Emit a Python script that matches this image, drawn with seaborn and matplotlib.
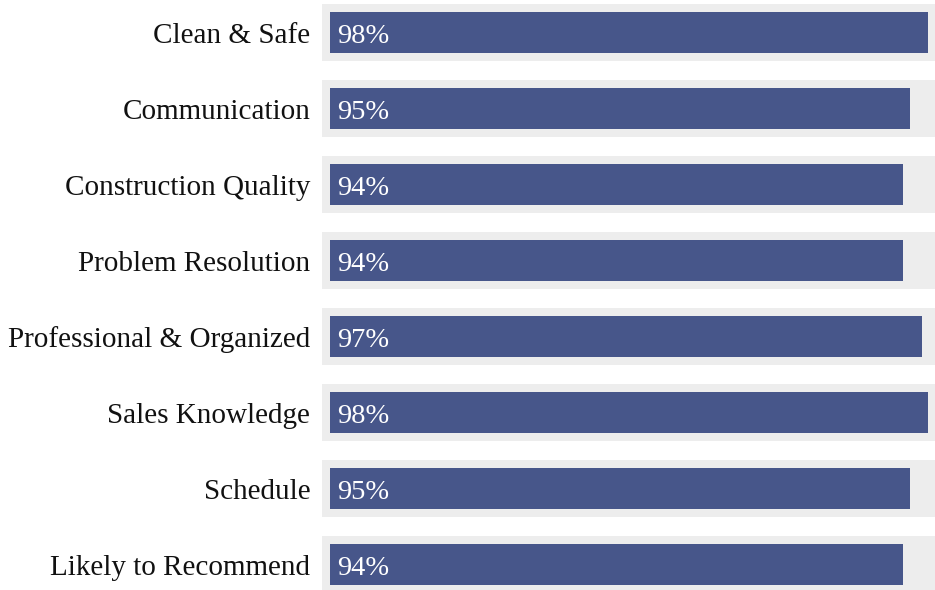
import matplotlib
matplotlib.use("Agg")
import matplotlib.pyplot as plt
import matplotlib.transforms as mtransforms
import seaborn as sns
import pandas as pd

# chart data
categories = [
    "Clean & Safe",
    "Communication",
    "Construction Quality",
    "Problem Resolution",
    "Professional & Organized",
    "Sales Knowledge",
    "Schedule",
    "Likely to Recommend",
]
scores = [98, 95, 94, 94, 97, 98, 95, 94]

bar_color = "#47568a"
track_color = "#ededed"

sns.set_theme(style="white")
plt.rcParams["font.family"] = ["Liberation Serif", "DejaVu Serif"]

df = pd.DataFrame({"category": categories, "score": scores})

fig = plt.figure(figsize=(9.35, 5.9), dpi=100)
ax = fig.add_axes([322 / 935, 0, (935 - 322) / 935, 1])

# grey track behind every bar
ax.barh(range(len(categories)), 120, left=-1.31, height=0.746,
        color=track_color, linewidth=0, zorder=0)

sns.barplot(data=df, x="score", y="category", orient="h", color=bar_color,
            width=0.535, saturation=1, linewidth=0, ax=ax, zorder=2)

# value labels sit on the baseline, a bit below the bar centre
for i, v in enumerate(scores):
    ax.text(1.2, i + 0.137, f"{v}%", va="baseline", ha="left", color="white",
            fontsize=20.5, zorder=3)

# category labels, drawn by hand so they share the same baseline
label_tr = mtransforms.offset_copy(ax.transData, fig=fig, x=-8.5, y=0,
                                   units="points")
for i, name in enumerate(categories):
    ax.text(-1.31, i + 0.137, name, va="baseline", ha="right", color="#111111",
            fontsize=21, transform=label_tr, clip_on=False)

ax.set_xlim(-1.31, 99.18)
ax.set_ylim(7.338, -0.425)
ax.set_xlabel("")
ax.set_ylabel("")
ax.set_xticks([])
ax.set_yticks([])
for s in ax.spines.values():
    s.set_visible(False)

fig.savefig("out.png", dpi=100)
